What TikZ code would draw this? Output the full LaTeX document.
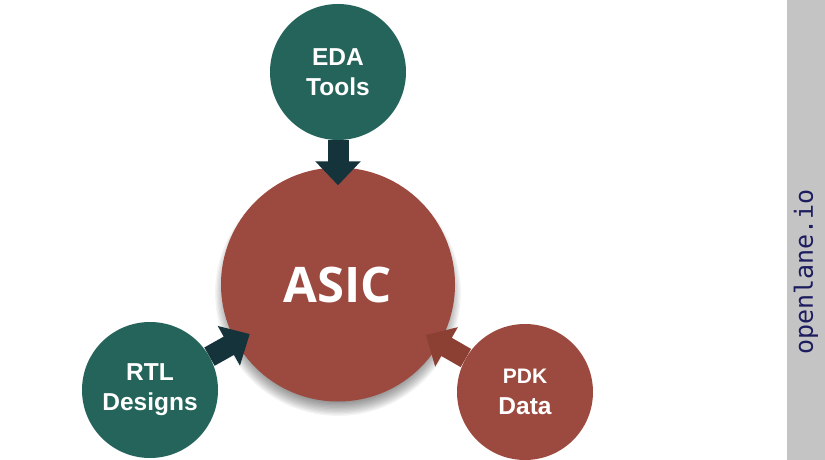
\documentclass[tikz,border=0pt]{standalone}
\usepackage{fontspec}
\setmainfont{Liberation Sans}
\newfontfamily\asicfont{Open Sans}
\newfontfamily\monofont{DejaVu Sans Mono}
\usetikzlibrary{arrows.meta}
\definecolor{teal1}{HTML}{24645A}
\definecolor{red1}{HTML}{9C4A3F}
\definecolor{red2}{HTML}{8C4034}
\definecolor{dark1}{HTML}{15333A}
\definecolor{side}{HTML}{C4C4C4}
\definecolor{navy}{HTML}{1C1C5E}
\tikzset{
  ball/.style={circle, inner sep=0pt, text=white, align=center},
  small/.style={ball, minimum size=136pt, font=\fontsize{24.5}{30}\selectfont\bfseries},
  big/.style={ball, minimum size=234pt, fill=red1, font=\asicfont\fontsize{49}{50}\selectfont\bfseries},
  blockarrow/.style={line width=21pt, -{Triangle[width=44pt,length=24pt]}},
}
\begin{document}
\begin{tikzpicture}[x=1pt,y=-1pt]
\useasboundingbox[fill=white] (0,0) rectangle (825,460);
\fill[side] (787,0) rectangle (825,460);
\node[rotate=90, text=navy, font=\monofont\fontsize{25}{25}\selectfont] (site) at (806,272) {openlane.io};
% soft shadow under ASIC
\foreach \i in {0,...,13}{
  \fill[black, opacity=0.045] (338,293) circle ({106+1.3*\i});
}
\node[big] (asic) at (338,284.5) {ASIC};
\node[small, fill=teal1] (eda) at (338,72) {EDA\\Tools};
\node[small, fill=teal1] (rtl) at (150,390) {RTL\\Designs};
\node[small, fill=red1] (pdk) at (525,392) {{\fontsize{21}{30}\selectfont PDK}\\[1pt]Data};
\draw[blockarrow, draw=dark1, fill=dark1, shorten >=-18pt] (eda) -- (asic);
\draw[blockarrow, draw=dark1, fill=dark1, shorten >=-16pt] (rtl) -- (asic);
\draw[blockarrow, draw=red2, fill=red2, shorten >=-16pt] (pdk) -- (asic);
\end{tikzpicture}
\end{document}
